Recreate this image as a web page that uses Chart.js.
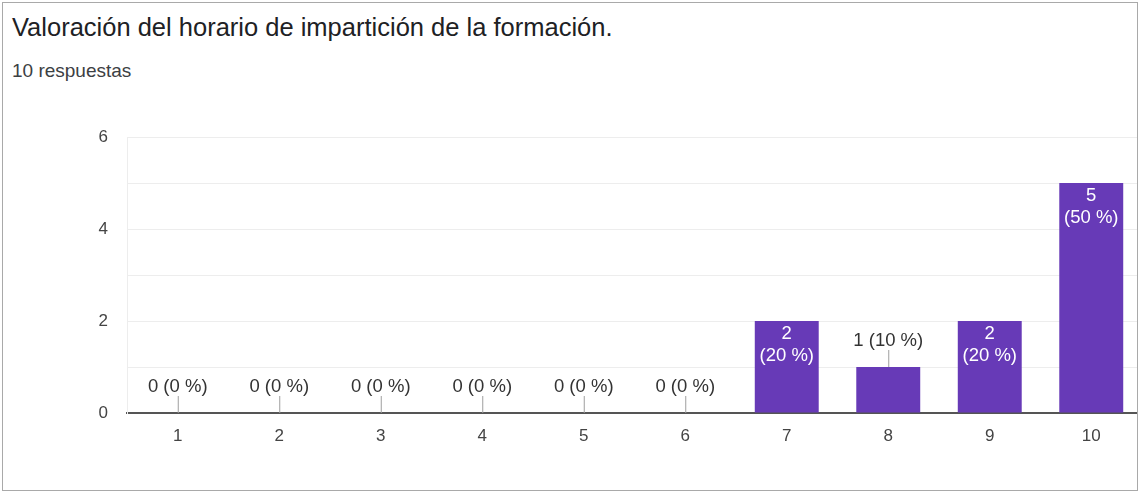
<!DOCTYPE html>
<html>
<head>
<meta charset="utf-8">
<script src="https://cdn.jsdelivr.net/npm/chart.js@4.4.0/dist/chart.umd.min.js"></script>
<style>
  html, body { margin: 0; padding: 0; background: #fff; }
  #card {
    position: absolute; left: 2px; top: 2px; width: 1134px; height: 487px;
    border: 1px solid #a9a9a9; overflow: hidden; background: #fff;
    font-family: "Liberation Sans", Arial, sans-serif;
  }
  #title { position: absolute; left: 9px; top: 10px; font-size: 25.5px; color: #202124; white-space: nowrap; }
  #sub { position: absolute; left: 9px; top: 57px; font-size: 19px; color: #3c4043; white-space: nowrap; }
  #wrap { position: absolute; left: -3px; top: 98px; width: 1150px; height: 360px; }
</style>
</head>
<body>
<div id="card">
  <div id="title">Valoración del horario de impartición de la formación.</div>
  <div id="sub">10 respuestas</div>
  <div id="wrap"><canvas id="chart"></canvas></div>
</div>
<script>
const categories = ["1", "2", "3", "4", "5", "6", "7", "8", "9", "10"];
const counts = [0, 0, 0, 0, 0, 0, 2, 1, 2, 5];
const percents = [0, 0, 0, 0, 0, 0, 20, 10, 20, 50];
const yTicks = [0, 2, 4, 6];

const FONT = "'Liberation Sans', Arial, sans-serif";

const barLabels = {
  id: "barLabels",
  afterDatasetsDraw(chart) {
    const ctx = chart.ctx;
    const meta = chart.getDatasetMeta(0);
    ctx.save();
    ctx.font = "18.5px " + FONT;
    ctx.textAlign = "center";
    ctx.textBaseline = "middle";
    meta.data.forEach((bar, i) => {
      const h = bar.base - bar.y;
      if (h > 60) {
        ctx.fillStyle = "#ffffff";
        ctx.fillText(String(counts[i]), bar.x, bar.y + 13);
        ctx.fillText("(" + percents[i] + " %)", bar.x, bar.y + 35);
      } else {
        ctx.strokeStyle = "#9e9e9e";
        ctx.lineWidth = 1;
        ctx.beginPath();
        ctx.moveTo(bar.x + 0.5, bar.y - 17);
        ctx.lineTo(bar.x + 0.5, bar.y);
        ctx.stroke();
        ctx.fillStyle = "#333333";
        ctx.fillText(counts[i] + " (" + percents[i] + " %)", bar.x, bar.y - 26);
      }
    });
    ctx.restore();
  }
};

new Chart(document.getElementById("chart").getContext("2d"), {
  type: "bar",
  data: {
    labels: categories,
    datasets: [{
      data: counts,
      backgroundColor: "#673ab7",
      borderWidth: 0,
      barPercentage: 0.63,
      categoryPercentage: 1
    }]
  },
  options: {
    responsive: true,
    maintainAspectRatio: false,
    animation: false,
    layout: { padding: { top: 36, right: 8, bottom: 0, left: 0 } },
    plugins: { legend: { display: false }, tooltip: { enabled: false } },
    scales: {
      x: {
        grid: { display: false, drawTicks: false },
        border: { color: "#555555", width: 2 },
        ticks: { color: "#444444", font: { size: 17, family: FONT }, padding: 13 },
        afterFit: s => { s.height = 48; }
      },
      y: {
        min: 0,
        max: 6,
        grid: { color: "#ededed", drawTicks: false },
        border: { color: "#ededed" },
        ticks: {
          stepSize: 1,
          color: "#444444",
          font: { size: 17, family: FONT },
          padding: 19,
          callback: v => (yTicks.includes(v) ? v : "")
        },
        afterFit: s => { s.width = 127; }
      }
    }
  },
  plugins: [barLabels]
});
</script>
</body>
</html>
